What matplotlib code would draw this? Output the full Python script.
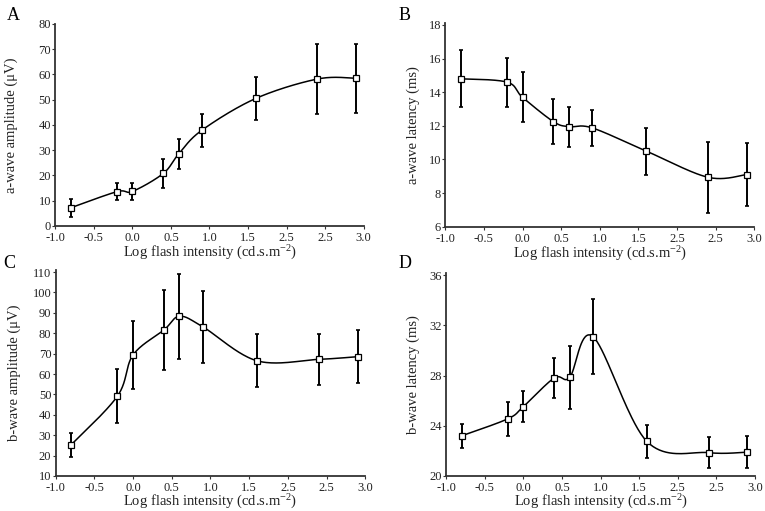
import numpy as np
import matplotlib
matplotlib.use("Agg")
import matplotlib.pyplot as plt

plt.rcParams['font.family'] = ['Liberation Serif', 'DejaVu Serif']
plt.rcParams['mathtext.fontset'] = 'custom'
plt.rcParams['mathtext.rm'] = 'Liberation Serif'
plt.rcParams['mathtext.it'] = 'Liberation Serif:italic'
plt.rcParams['mathtext.bf'] = 'Liberation Serif:bold'

# ---- data ----
intensity = [-0.8, -0.2, 0.0, 0.4, 0.6, 0.9, 1.6, 2.4, 2.9]

a_amp = [7.2, 13.6, 13.7, 20.8, 28.5, 37.9, 50.5, 58.2, 58.5]
a_amp_err = [3.5, 3.3, 3.4, 5.9, 6.1, 6.5, 8.6, 13.7, 13.7]

a_lat = [14.8, 14.6, 13.7, 12.25, 11.95, 11.88, 10.5, 8.94, 9.1]
a_lat_err = [1.7, 1.45, 1.5, 1.33, 1.2, 1.06, 1.4, 2.1, 1.88]

b_amp = [25.2, 49.2, 69.3, 81.6, 88.3, 83.2, 66.5, 67.2, 68.5]
b_amp_err = [6.1, 13.3, 16.7, 19.4, 20.7, 17.6, 12.9, 12.4, 12.85]

b_lat = [23.2, 24.56, 25.53, 27.81, 27.86, 31.11, 22.75, 21.86, 21.9]
b_lat_err = [0.98, 1.36, 1.23, 1.57, 2.5, 3.0, 1.35, 1.25, 1.3]

x_ticks = [-1.0, -0.5, 0.0, 0.5, 1.0, 1.5, 2.0, 2.5, 3.0]
x_tick_labels = ["-1.0", "-0.5", "0.0", "0.5", "1.0", "1.5", "2.5", "2.5", "3.0"]
xlabel = "Log flash intensity (cd.s.m$^{\\mathrm{-2}}$)"

panels = [
    dict(letter="A", y=a_amp, err=a_amp_err, ylabel="a-wave amplitude (\u03bcV)",
         yticks=list(range(0, 81, 10)), ylim=(0, 80.1)),
    dict(letter="B", y=a_lat, err=a_lat_err, ylabel="a-wave latency (ms)",
         yticks=list(range(6, 19, 2)), ylim=(6, 18.1)),
    dict(letter="C", y=b_amp, err=b_amp_err, ylabel="b-wave amplitude (\u03bcV)",
         yticks=list(range(10, 111, 10)), ylim=(10, 111)),
    dict(letter="D", y=b_lat, err=b_lat_err, ylabel="b-wave latency (ms)",
         yticks=list(range(20, 37, 4)), ylim=(20, 36.2)),
]

# axes rectangles in pixels (left, top, right, bottom) of a 765x511 figure
W, H = 765, 511
rects_px = [
    (55.3, 23.7, 363.7, 226.0),
    (445.2, 23.3, 754.4, 226.7),
    (55.5, 270.0, 365.4, 476.0),
    (446.2, 272.6, 755.0, 476.0),
]
ylabel_x_px = [18, 420, 21, 420]
letter_pos_px = [(7, 20), (399, 20), (3, 268), (399, 268)]
xlabel_pads = [0, 0, -1, -1]


def smooth_curve(xs, ys, n=40):
    """Catmull-Rom style Bezier smoothing through the data points."""
    P = np.column_stack([xs, ys]).astype(float)
    m = len(P)
    out = []
    t = np.linspace(0, 1, n)[:, None]
    for i in range(m - 1):
        p0 = P[i]
        p3 = P[i + 1]
        pm = P[i - 1] if i > 0 else P[i]
        pp = P[i + 2] if i + 2 < m else P[i + 1]
        c1 = p0 + (p3 - pm) / 6.0
        c2 = p3 - (pp - p0) / 6.0
        seg = ((1 - t) ** 3) * p0 + 3 * ((1 - t) ** 2) * t * c1 + 3 * (1 - t) * t ** 2 * c2 + t ** 3 * p3
        out.append(seg if i == 0 else seg[1:])
    seg = np.vstack(out)
    return seg[:, 0], seg[:, 1]


fig = plt.figure(figsize=(W / 100, H / 100), dpi=100)
fig.patch.set_facecolor("white")

text_col = "#222222"
for p, (l, t, r, b), ylx, (lx, ly), xlp in zip(panels, rects_px, ylabel_x_px,
                                              letter_pos_px, xlabel_pads):
    ax = fig.add_axes([l / W, 1 - b / H, (r - l) / W, (b - t) / H])
    cx, cy = smooth_curve(intensity, p["y"])
    ax.plot(cx, cy, color="black", lw=1.1, zorder=2)
    ax.errorbar(intensity, p["y"], yerr=p["err"], fmt="none", ecolor="black",
                elinewidth=1.4, capsize=1.6, capthick=1.2, zorder=1)
    ax.plot(intensity, p["y"], linestyle="none", marker="s", markersize=5,
            markerfacecolor="white", markeredgecolor="black", markeredgewidth=0.9, zorder=3)
    ax.set_xlim(-1.0, 3.0)
    ax.set_ylim(*p["ylim"])
    ax.set_xticks(x_ticks)
    ax.set_xticklabels(x_tick_labels)
    ax.set_yticks(p["yticks"])
    ax.set_yticklabels([str(v) for v in p["yticks"]])
    for s in ("top", "right"):
        ax.spines[s].set_visible(False)
    for s in ("left", "bottom"):
        ax.spines[s].set_linewidth(1.3)
        ax.spines[s].set_color("#333333")
    ax.tick_params(axis="both", direction="out", length=2, width=0.8, colors="#333333",
                   labelsize=9, labelcolor=text_col)
    ax.tick_params(axis="y", pad=1)
    ax.tick_params(axis="x", pad=2.5)
    ax.set_xlabel(xlabel, fontsize=10.5, color=text_col, labelpad=xlp)
    ax.set_ylabel(p["ylabel"], fontsize=10.5, color=text_col)
    ax.yaxis.set_label_coords((ylx - l) / (r - l), 0.5)
    fig.text(lx / W, 1 - ly / H, p["letter"], fontsize=13, color="black",
             ha="left", va="baseline")

fig.savefig("out.png", dpi=100, facecolor="white")
